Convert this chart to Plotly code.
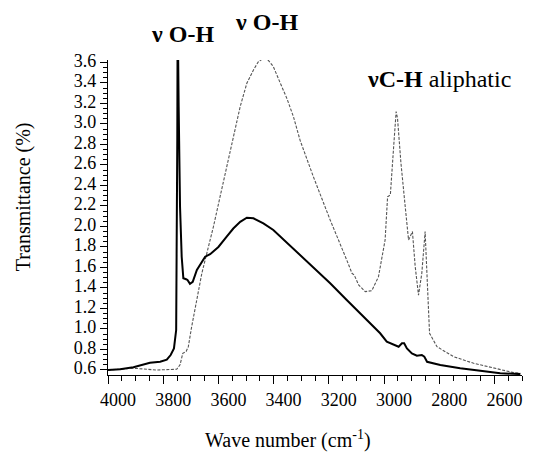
import plotly.graph_objects as go

# Sample A (solid black)
wn_a = [4000, 3956, 3908, 3872, 3848, 3811, 3787, 3773, 3761, 3753, 3751, 3749, 3748,
        3746, 3744, 3739, 3733, 3727, 3717, 3712, 3703, 3693, 3678, 3666, 3648, 3630,
        3600, 3570, 3546, 3521, 3497, 3473, 3437, 3401, 3364, 3328, 3304, 3256, 3195,
        3135, 3074, 3014, 2990, 2959, 2947, 2935, 2927, 2917, 2899, 2881, 2863, 2854,
        2844, 2796, 2724, 2651, 2579, 2506]
tr_a = [0.60, 0.607, 0.626, 0.65, 0.67, 0.68, 0.70, 0.746, 0.81, 0.99, 1.55, 2.84, 3.75,
        3.70, 3.17, 2.19, 1.705, 1.495, 1.485, 1.478, 1.44, 1.46, 1.575, 1.63, 1.705, 1.73,
        1.80, 1.90, 1.98, 2.045, 2.085, 2.08, 2.03, 1.966, 1.873, 1.78, 1.72, 1.60, 1.446,
        1.283, 1.12, 0.958, 0.876, 0.844, 0.827, 0.86, 0.86, 0.81, 0.762, 0.74, 0.746, 0.73,
        0.68, 0.649, 0.617, 0.593, 0.568, 0.56]

# Sample B (dashed grey)
wn_b = [4000, 3908, 3824, 3751, 3739, 3729, 3717, 3709, 3697, 3678, 3660, 3642, 3618,
        3594, 3570, 3546, 3521, 3497, 3473, 3455, 3437, 3419, 3401, 3376, 3352, 3328,
        3304, 3256, 3195, 3135, 3116, 3108, 3092, 3068, 3044, 3020, 2996, 2987, 2977,
        2965, 2956, 2951, 2939, 2923, 2911, 2897, 2887, 2875, 2863, 2851, 2845, 2835,
        2808, 2748, 2675, 2603, 2530, 2506]
tr_b = [0.60, 0.617, 0.60, 0.607, 0.65, 0.763, 0.78, 0.827, 1.02, 1.283, 1.543, 1.738, 1.998,
        2.29, 2.58, 2.876, 3.17, 3.397, 3.527, 3.608, 3.64, 3.62, 3.56, 3.40, 3.25, 3.07,
        2.84, 2.486, 2.063, 1.673, 1.543, 1.527, 1.43, 1.364, 1.374, 1.51, 1.868, 2.29, 2.307,
        2.78, 3.12, 3.055, 2.63, 2.19, 1.868, 1.95, 1.61, 1.33, 1.543, 1.95, 1.61, 0.958,
        0.827, 0.73, 0.665, 0.617, 0.574, 0.568]

y_ticks = [0.6, 0.8, 1.0, 1.2, 1.4, 1.6, 1.8, 2.0, 2.2, 2.4, 2.6, 2.8, 3.0, 3.2, 3.4, 3.6]
x_ticks = [4000, 3800, 3600, 3400, 3200, 3000, 2800, 2600]

serif = "Liberation Serif, Times New Roman, serif"

def f(size):
    return dict(family=serif, size=size, color="black")

fig = go.Figure()
fig.add_trace(go.Scatter(x=wn_b, y=tr_b, mode="lines",
                         line=dict(color="#555555", width=1.1, dash="3px,1.5px"),
                         showlegend=False))
fig.add_trace(go.Scatter(x=wn_a, y=tr_a, mode="lines",
                         line=dict(color="black", width=2),
                         showlegend=False))

def ann(text, x, y, size, angle=0):
    return dict(text=text, xref="paper", yref="paper", x=x, y=y, xanchor="center",
                yanchor="middle", showarrow=False, textangle=angle, font=f(size))

fig.update_layout(
    width=533, height=459,
    margin=dict(l=108, r=11, t=60, b=84, autoexpand=False),
    paper_bgcolor="white", plot_bgcolor="white",
    font=f(18),
    xaxis=dict(range=[4000, 2500], tickvals=x_ticks, ticktext=[str(v) for v in x_ticks],
               ticks="outside", ticklen=8, tickwidth=1.3, tickcolor="black",
               showline=True, linecolor="black", linewidth=1.3, automargin=False,
               showgrid=False, zeroline=False, tickfont=f(18),
               ticklabelshift=-10,
               minor=dict(dtick=50, tick0=4000, ticks="outside", ticklen=5,
                          tickwidth=1.2, tickcolor="black", showgrid=False)),
    yaxis=dict(range=[0.551, 3.624], tickvals=y_ticks, ticktext=["%.1f" % v for v in y_ticks],
               ticks="outside", ticklen=7, tickwidth=1.2, tickcolor="black",
               showline=True, linecolor="black", linewidth=1.3, automargin=False,
               showgrid=False, zeroline=False, tickfont=f(18),
               ticklabelshift=-2,
               minor=dict(dtick=0.05, tick0=0.6, ticks="outside", ticklen=4,
                          tickwidth=1, tickcolor="black", showgrid=False)),
    annotations=[
        ann("Transmittance (%)", -0.205, 0.565, 20, -90),
        ann("Wave number (cm<sup>-1</sup>)", 0.435, -0.206, 20),
        ann("<b>ν O-H</b>", 0.179, 1.084, 24),
        ann("<b>ν O-H</b>", 0.382, 1.12, 24),
        ann("<b>νC-H</b> aliphatic", 0.80, 0.94, 24),
    ],
)

fig.write_html("out.html", config={"displayModeBar": False},
               post_script="document.body.style.margin='0';document.body.style.padding='0';"
                           "document.body.style.overflow='hidden';")
